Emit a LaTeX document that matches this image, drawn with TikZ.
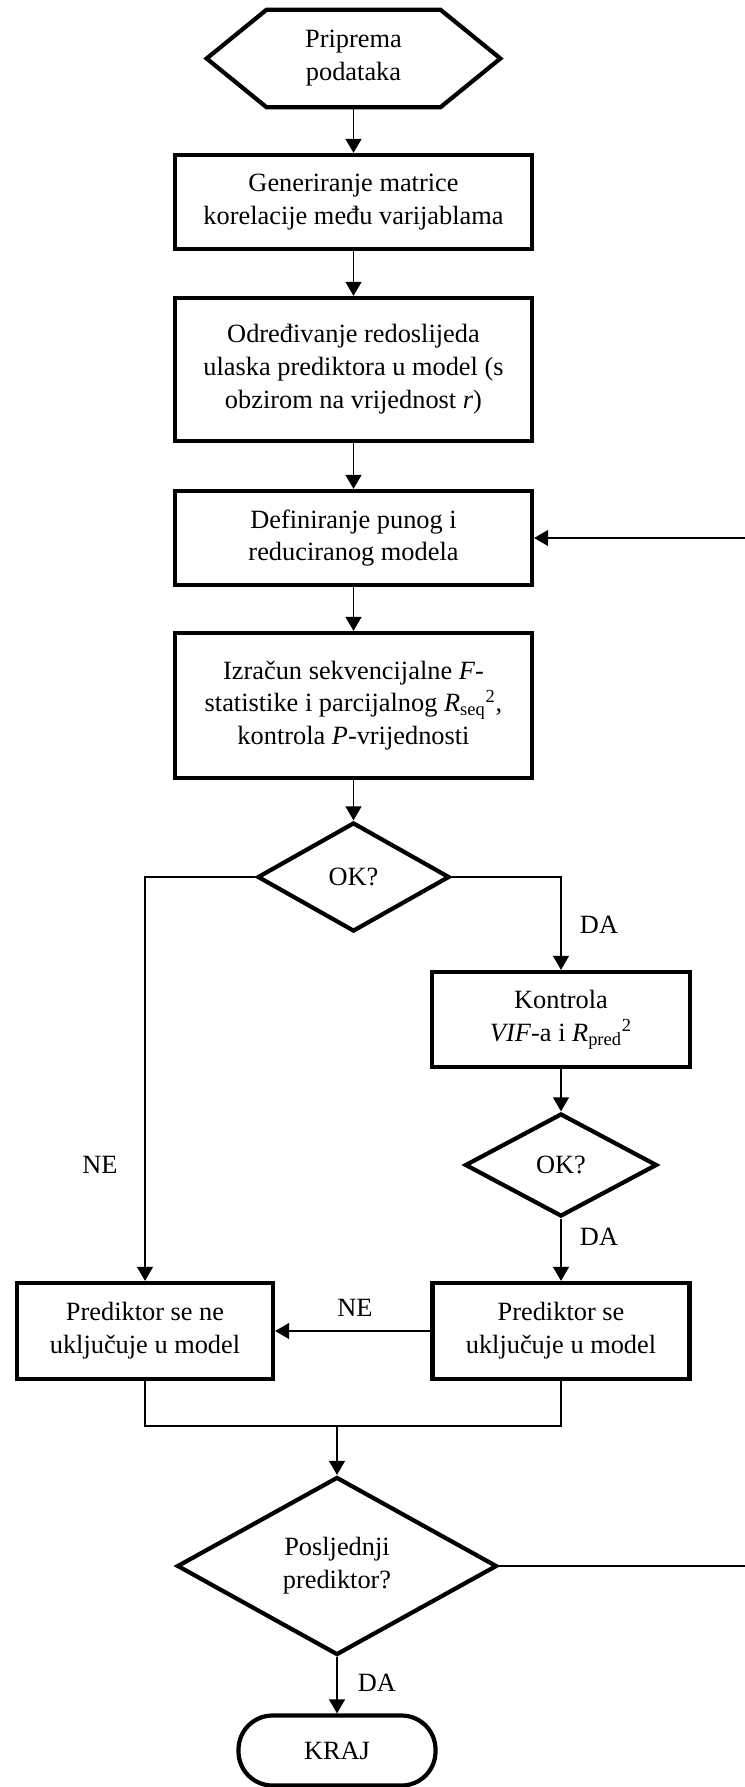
\documentclass[tikz,border=0pt]{standalone}
\usepackage{fontspec}
\setmainfont{Liberation Serif}
\usetikzlibrary{shapes.geometric,arrows.meta}
\tikzset{
    every node/.style={font=\fontsize{15}{18.7}\selectfont, align=center,
    	inner sep=2pt}
}
\tikzset{
    procbox/.style={rectangle, draw, line width=2.4pt, minimum width=7.14cm},
    decision/.style={diamond, draw, line width=2.4pt, inner sep=0pt},
    arr/.style={-{Triangle[length=8pt,width=9pt]}},
    conn/.style={line width=1.1pt}
}
\tikzset{
    every edge/.append style={line width=1.1pt, arr}
}

\begin{document}
\begin{tikzpicture}
  \useasboundingbox (0,0) rectangle (14.88,-35.74);
  \node (prep) [minimum width=5.86cm, minimum height=1.94cm] at (7.07cm,-1.17cm) {Priprema\\podataka};
  \draw [line width=2.4pt] (prep.west) -- ([xshift=1.2cm]prep.north west) -- ([xshift=-1.2cm]prep.north east)
    -- (prep.east) -- ([xshift=-1.2cm]prep.south east) -- ([xshift=1.2cm]prep.south west) -- cycle;
  \node (gen) [procbox, minimum height=1.88cm] at (7.07cm,-4.04cm) {Generiranje matrice\\korelacije među varijablama};
  \node (order) [procbox, minimum height=2.86cm] at (7.07cm,-7.39cm) {Određivanje redoslijeda\\ulaska prediktora u model (s\\obzirom na vrijednost \textit{r})};
  \node (def) [procbox, minimum height=1.88cm] at (7.07cm,-10.76cm) {Definiranje punog i\\reduciranog modela};
  \node (calc) [procbox, minimum height=2.9cm] at (7.07cm,-14.11cm) {Izračun sekvencijalne \textit{F}-\\statistike i parcijalnog \textit{R}\textsubscript{seq}\textsuperscript{2},\\kontrola \textit{P}-vrijednosti};
  \node (ok1) [decision, minimum width=3.84cm, minimum height=2.18cm] at (7.07cm,-17.54cm) {OK?};
  \node (vif) [procbox, minimum width=5.16cm, minimum height=1.9cm] at (11.22cm,-20.39cm) {Kontrola\\\textit{VIF}-a i \textit{R}\textsubscript{pred}\textsuperscript{2}};
  \node (ok2) [decision, minimum width=3.84cm, minimum height=2.06cm] at (11.22cm,-23.3cm) {OK?};
  \node (excl) [procbox, minimum width=5.12cm, minimum height=1.92cm] at (2.9cm,-26.62cm) {Prediktor se ne\\uključuje u model};
  \node (incl) [procbox, minimum width=5.14cm, minimum height=1.92cm] at (11.22cm,-26.62cm) {Prediktor se\\uključuje u model};
  \node (last) [decision, minimum width=6.4cm, minimum height=3.56cm] at (6.74cm,-31.32cm) {Posljednji\\prediktor?};
  \node (kraj) [draw, line width=2.4pt, rounded corners=0.68cm, minimum width=3.94cm, minimum height=1.4cm] at (6.74cm,-35.01cm) {KRAJ};
  \node (ne1) at (2.0cm,-23.3cm) {NE};
  \node (da1) at (11.98cm,-18.5cm) {DA};
  \node (da2) at (11.98cm,-24.74cm) {DA};
  \node (ne2) at (7.1cm,-26.16cm) {NE};
  \node (da3) [anchor=west] at (7.08cm,-33.66cm) {DA};
  \coordinate (join) at (6.74cm,-28.52cm);
  \coordinate (back) at (15.2cm,-10.76cm);
  \draw (prep) edge (gen); \draw (gen) edge (order);
  \draw (order) edge (def); \draw (def) edge (calc);
  \draw (calc) edge (ok1); \draw (vif) edge (ok2);
  \draw (ok2) edge (incl); \draw (incl) edge (excl);
  \draw (join) edge (last); \draw (last) edge (kraj);
  \draw [conn, arr] (ok1.west) -| (excl.north);
  \draw [conn, arr] (ok1.east) -| (vif.north);
  \draw [conn] (excl.south) |- (join) -| (incl.south);
  \draw [conn, arr] (last.east) -| (back) -- (def.east);
\end{tikzpicture}
\end{document}
